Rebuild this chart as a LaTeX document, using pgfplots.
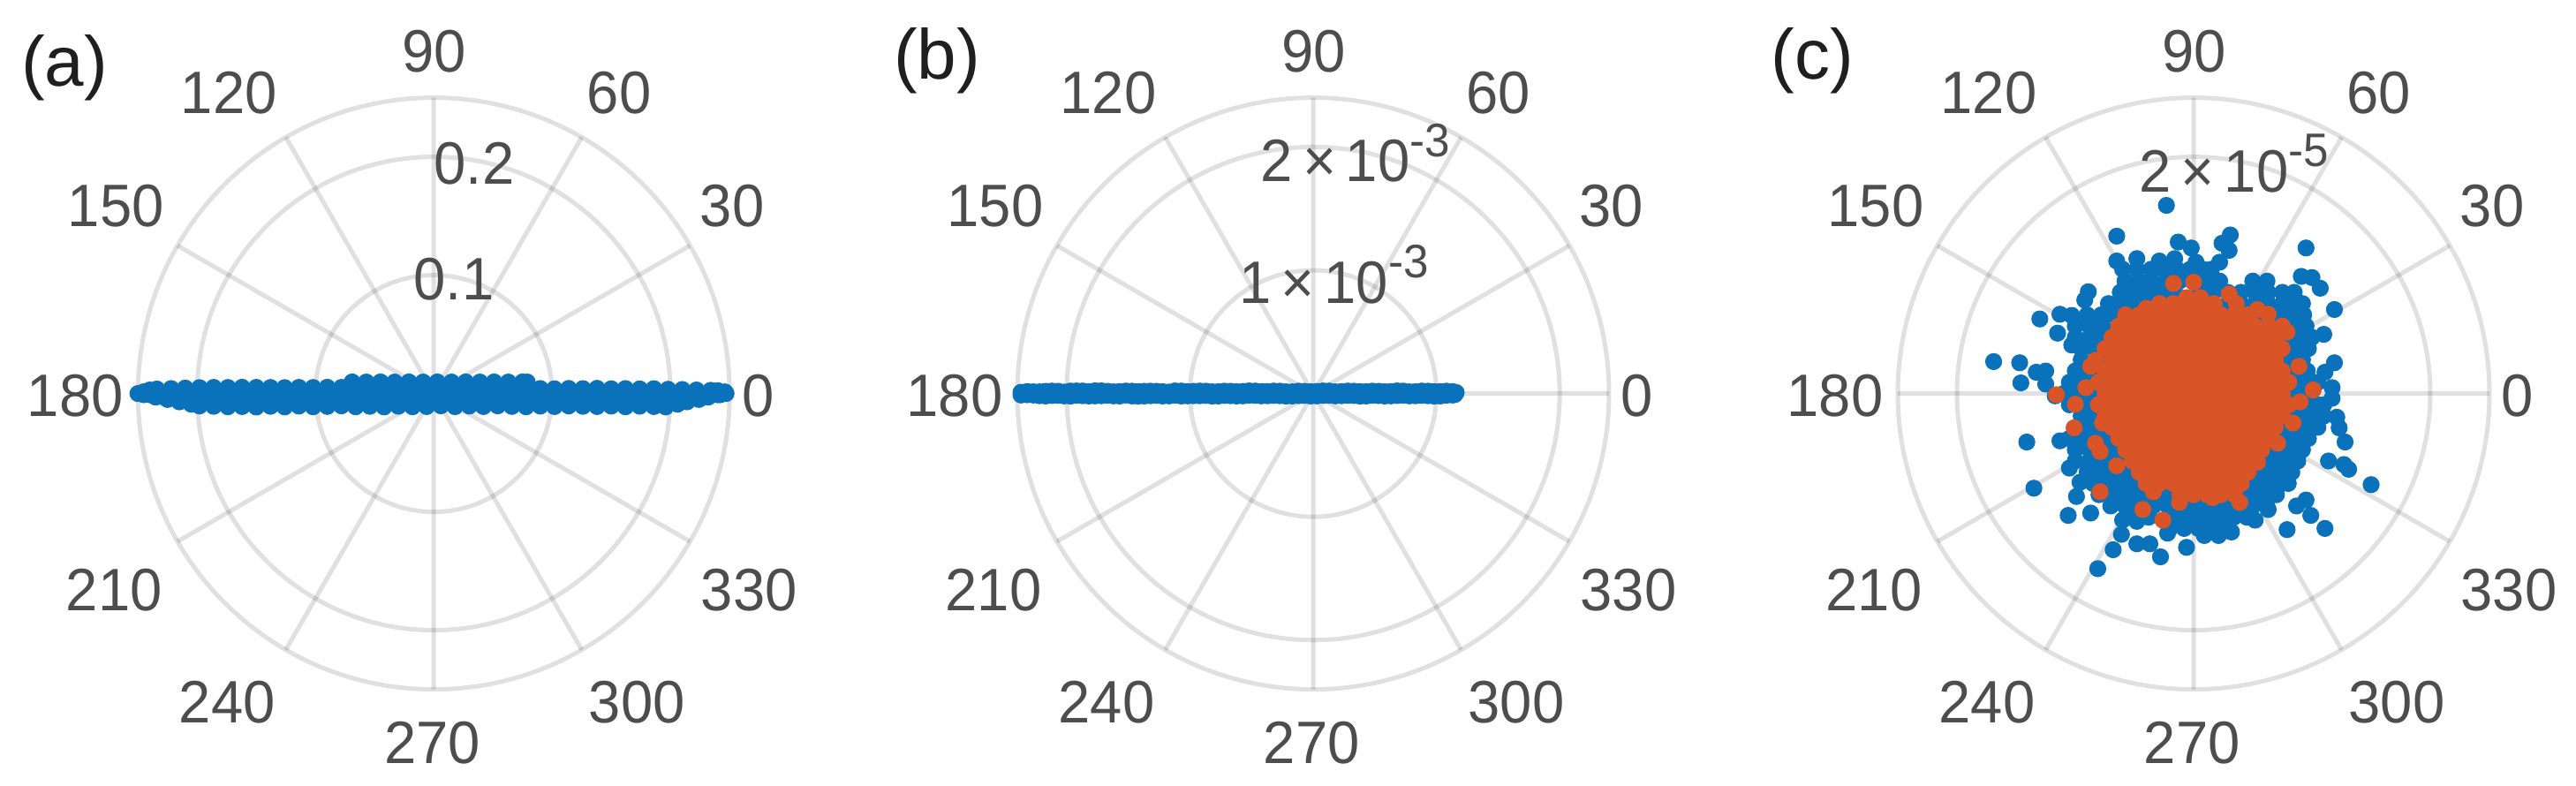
\documentclass[border=0pt]{standalone}
\usepackage{fontspec}
\setmainfont{Liberation Sans}
\usepackage{pgfplots}
\pgfplotsset{compat=1.18}
\usepgfplotslibrary{polar}
\definecolor{mblue}{HTML}{0A72BA}
\definecolor{morange}{HTML}{D95426}
\definecolor{lab}{HTML}{4D4D4D}
\newcommand{\tfont}{\fontsize{16.3}{16.3}\selectfont}
\newcommand{\pow}[1]{\raisebox{0.42em}{\fontsize{12.8}{12}\selectfont #1}}
\newcommand{\st}[1]{\scalebox{1}[1.04]{#1}}
\newcommand{\al}[3]{\node[font=\tfont,text=lab,xshift=#1pt,yshift=#2pt] at (axis cs:0,0) {\st{#3}};}
\newcommand{\anglelabels}{%
\al{91.75}{-0.75}{0}\al{84.5}{53.2}{30}\al{52.5}{85.2}{60}\al{0.1}{96.75}{90}%
\al{-58}{85.2}{120}\al{-90}{53.2}{150}\al{-101.5}{-0.75}{180}\al{-90.5}{-55.75}{210}%
\al{-58.5}{-87.5}{240}\al{-0.45}{-98.9}{270}\al{57.5}{-87.5}{300}\al{89.25}{-55.75}{330}}
\pgfplotsset{mypolar/.style={
  scale only axis,width=167.5pt,height=167.5pt,anchor=center,clip=false,
  xmin=0,xmax=360,ymin=0,
  xtick={0,30,60,90,120,150,180,210,240,270,300,330},
  xticklabel=\empty,yticklabel=\empty,
  major tick length=0pt,
  xmajorgrids,ymajorgrids,
  grid style={black,opacity=0.12,line width=1.25pt},
  separate axis lines,
  x axis line style={black,opacity=0.12,line width=1.25pt},
  y axis line style={draw=none},
  every axis plot/.append style={only marks,mark=*,mark size=2.2pt,data cs=cart},
}}
\begin{document}
\begin{tikzpicture}
\path[use as bounding box] (0,0) rectangle (729.25pt,222.5pt);
\node[font=\fontsize{20}{20}\selectfont,text=black!88] at (18.25pt,203.3pt) {(a)};
\node[font=\fontsize{20}{20}\selectfont,text=black!88] at (265.25pt,205.25pt) {(b)};
\node[font=\fontsize{20}{20}\selectfont,text=black!88] at (513.1pt,205.4pt) {(c)};
% ---------------- (a)
\begin{polaraxis}[mypolar,at={(122.8pt,111.1pt)},ymax=0.25,ytick={0.1,0.2}]
\addplot[mblue] coordinates {
(-0.069,0.0098)(-0.057,0.0097)(-0.045,0.0098)(-0.033,0.0097)(-0.021,0.0098)(-0.009,0.0097)(0.003,0.0098)(0.015,0.0097)(0.027,0.0098)(0.039,0.0097)(0.051,0.0098)(0.063,0.0097)(0.075,0.0098)(0.079,0.0097)
(-0.234,0.0038)(-0.222,0.0042)(-0.210,0.0046)(-0.198,0.0050)(-0.186,0.0052)(-0.174,0.0051)(-0.162,0.0053)(-0.150,0.0052)(-0.138,0.0051)(-0.126,0.0050)(-0.114,0.0052)(-0.102,0.0051)(-0.090,0.0053)(-0.078,0.0052)(-0.066,0.0050)(-0.054,0.0052)(-0.042,0.0051)(-0.030,0.0050)(-0.018,0.0052)(-0.006,0.0050)(0.006,0.0052)(0.018,0.0051)(0.030,0.0049)(0.042,0.0052)(0.054,0.0050)(0.066,0.0052)(0.078,0.0051)(0.090,0.0042)(0.102,0.0040)(0.114,0.0043)(0.126,0.0041)(0.138,0.0044)(0.150,0.0040)(0.162,0.0042)(0.174,0.0039)(0.186,0.0041)(0.198,0.0036)(0.210,0.0034)(0.222,0.0030)(0.234,0.0027)
(-0.245,0.0015)(-0.240,0.0030)(0.240,0.0024)(0.246,0.0014)(-0.250,0.0003)(0.247,0.0002)
(-0.240,-0.0010)(-0.228,-0.0030)(-0.216,-0.0030)(-0.204,-0.0032)(-0.192,-0.0030)(-0.180,-0.0028)(-0.168,-0.0031)(-0.156,-0.0030)(-0.144,-0.0032)(-0.132,-0.0029)(-0.120,-0.0030)(-0.108,-0.0031)(-0.096,-0.0028)(-0.084,-0.0030)(-0.072,-0.0032)(-0.060,-0.0029)(-0.048,-0.0030)(-0.036,-0.0031)(-0.024,-0.0028)(-0.012,-0.0030)(0,-0.0032)(0.012,-0.0029)(0.024,-0.0030)(0.036,-0.0031)(0.048,-0.0028)(0.060,-0.0030)(0.072,-0.0032)(0.084,-0.0029)(0.096,-0.0030)(0.108,-0.0031)(0.120,-0.0028)(0.132,-0.0030)(0.144,-0.0032)(0.156,-0.0029)(0.168,-0.0030)(0.180,-0.0031)(0.192,-0.0028)(0.204,-0.0030)(0.216,-0.0030)(0.228,-0.0025)(0.240,-0.0010)
(-0.245,-0.0010)(-0.235,-0.0030)(-0.225,-0.0050)(-0.215,-0.0070)(-0.205,-0.0090)
(-0.198,-0.0105)(-0.186,-0.0108)(-0.174,-0.0112)(-0.162,-0.0110)(-0.150,-0.0114)(-0.138,-0.0108)(-0.126,-0.0113)(-0.114,-0.0106)(-0.102,-0.0112)(-0.090,-0.0109)(-0.078,-0.0104)(-0.066,-0.0112)(-0.054,-0.0108)(-0.042,-0.0113)(-0.030,-0.0107)(-0.018,-0.0112)(-0.006,-0.0110)(0.006,-0.0104)(0.018,-0.0111)(0.030,-0.0106)(0.042,-0.0110)(0.054,-0.0104)(0.066,-0.0109)(0.078,-0.0112)(0.090,-0.0106)(0.102,-0.0110)(0.114,-0.0105)(0.126,-0.0108)(0.138,-0.0110)(0.150,-0.0106)(0.162,-0.0112)(0.174,-0.0107)(0.186,-0.0110)(0.196,-0.0113)
(0.206,-0.0090)(0.214,-0.0070)(0.224,-0.0050)(0.232,-0.0030)(0.242,-0.0010)
};
\node[font=\tfont,text=lab] at (axis cs:80,0.098) {\st{0.1}};
\node[font=\tfont,text=lab] at (axis cs:80,0.197) {\st{0.2}};
\anglelabels
\end{polaraxis}
% ---------------- (b)
\begin{polaraxis}[mypolar,at={(371.75pt,111.1pt)},ymax=2.4,ytick={1,2}]
\addplot[mblue] coordinates {
(-2.37,0.010)(-2.27,-0.012)(-2.17,0.018)(-2.07,-0.015)(-1.97,0.020)(-1.87,-0.018)(-1.77,0.022)(-1.67,-0.014)(-1.57,0.016)(-1.47,-0.020)(-1.37,0.018)(-1.27,-0.015)(-1.17,0.012)(-1.07,-0.020)(-0.97,0.018)(-0.87,-0.016)(-0.77,0.015)(-0.67,-0.018)(-0.57,0.017)(-0.47,-0.015)(-0.37,0.016)(-0.27,-0.018)(-0.17,0.014)(-0.07,-0.016)(0.03,0.017)(0.13,-0.014)(0.23,0.016)(0.33,-0.016)(0.43,0.015)(0.53,-0.017)(0.63,0.016)(0.73,-0.014)(0.83,0.015)(0.93,-0.018)(1.03,0.016)(1.13,-0.012)(1.16,0.008)
(-2.32,-0.010)(-2.22,0.014)(-2.12,-0.016)(-2.02,0.012)(-1.92,-0.014)(-1.82,0.016)(-1.72,-0.018)(-1.62,0.014)(-1.52,-0.012)(-1.42,0.016)(-1.32,-0.018)(-1.22,0.015)(-1.12,-0.014)(-1.02,0.016)(-0.92,-0.018)(-0.82,0.014)(-0.72,-0.016)(-0.62,0.015)(-0.52,-0.014)(-0.42,0.016)(-0.32,-0.015)(-0.22,0.014)(-0.12,-0.017)(-0.02,0.015)(0.08,-0.016)(0.18,0.014)(0.28,-0.015)(0.38,0.016)(0.48,-0.014)(0.58,0.015)(0.68,-0.016)(0.78,0.014)(0.88,-0.015)(0.98,0.016)(1.08,-0.014)(1.15,-0.008)
(-2.37,-0.012)(-2.27,0.014)(-2.17,-0.020)(-2.07,0.018)(-1.97,-0.021)(-1.87,0.020)(-1.77,-0.019)(-1.67,0.018)(-1.57,-0.020)(-1.47,0.019)(-1.37,-0.020)(-1.27,0.018)(-1.17,-0.019)(-1.07,0.020)(-0.97,-0.018)(-0.87,0.019)(-0.77,-0.020)(-0.67,0.018)(-0.57,-0.019)(-0.47,0.020)(-0.37,-0.018)(-0.27,0.019)(-0.17,-0.020)(-0.07,0.018)(0.03,-0.019)(0.13,0.020)(0.23,-0.018)(0.33,0.019)(0.43,-0.020)(0.53,0.018)(0.63,-0.019)(0.73,0.020)(0.83,-0.018)(0.93,0.019)(1.03,-0.020)(1.13,0.016)
(-2.32,0.016)(-2.22,-0.018)(-2.12,0.020)(-2.02,-0.019)(-1.92,0.021)(-1.82,-0.020)(-1.72,0.022)(-1.62,-0.019)(-1.52,0.020)(-1.42,-0.021)(-1.32,0.019)(-1.22,-0.020)(-1.12,0.021)(-1.02,-0.019)(-0.92,0.020)(-0.82,-0.021)(-0.72,0.019)(-0.62,-0.020)(-0.52,0.021)(-0.42,-0.019)(-0.32,0.020)(-0.22,-0.021)(-0.12,0.019)(-0.02,-0.020)(0.08,0.021)(0.18,-0.019)(0.28,0.020)(0.38,-0.021)(0.48,0.019)(0.58,-0.020)(0.68,0.021)(0.78,-0.019)(0.88,0.020)(0.98,-0.021)(1.08,0.019)
};
\node[font=\tfont,text=lab] at (axis cs:80,0.98) {\st{1\,×\,10\pow{-3}}};
\node[font=\tfont,text=lab] at (axis cs:80,1.98) {\st{2\,×\,10\pow{-3}}};
\anglelabels
\end{polaraxis}
% ---------------- (c)
\begin{polaraxis}[mypolar,at={(621pt,111.1pt)},ymax=2.5,ytick={2}]
\addplot[mblue] coordinates {
(-0.23,1.59)(-0.65,1.33)(-0.13,1.28)(-0.02,1.23)(0.31,1.34)(0.24,1.27)(0.30,1.21)(0.95,1.23)(-0.65,1.12)(-0.48,1.14)(-0.29,1.12)(-0.16,1.14)(0.02,1.11)(0.22,1.11)(0.91,0.99)(1.00,0.98)(1.07,0.89)(1.19,0.71)(-0.89,0.86)(-0.92,0.79)(-1.30,0.63)(-1.13,0.67)(-1.03,0.66)(-1.15,0.51)(-1.03,0.41)(1.10,0.50)(1.19,0.26)(1.11,0.18)(-1.69,0.27)(-1.47,0.26)(-1.33,0.18)(-1.25,0.19)(-1.46,0.09)(-1.25,0.08)(-1.17,-0.02)(1.17,0.05)(1.17,-0.04)(1.21,-0.20)(1.23,-0.29)(1.28,-0.41)(1.14,-0.57)(1.27,-0.60)(1.31,-0.64)(1.50,-0.77)(-1.41,-0.41)(-1.13,-0.40)(-1.05,-0.63)(-1.35,-0.80)(-0.96,-0.75)(-0.99,-0.87)(-1.06,-1.03)(-0.87,-1.01)(-0.65,-0.92)(-0.60,-1.07)(-0.48,-1.08)(-0.61,-1.19)(-0.68,-1.32)(-0.48,-1.27)(-0.37,-1.27)(-0.28,-1.38)(-0.81,-1.48)(-0.06,-1.30)(-0.22,-1.18)(0.09,-1.20)(0.21,-1.20)(0.32,-1.17)(0.52,-1.07)(0.63,-0.98)(0.79,-1.15)(1.11,-1.14)(0.99,-1.03)(0.95,-0.90)(0.87,-0.95)
(-0.60,1.05)(-0.48,1.05)(-0.36,1.05)(-0.25,1.05)(-0.14,1.05)(-0.03,1.05)(0.08,1.05)(0.15,1.05)
(-0.58,0.95)(-0.46,0.95)(-0.35,0.95)(-0.23,0.95)(-0.12,0.95)(-0.01,0.95)(0.10,0.95)(0.22,0.95)(0.50,0.95)(0.62,0.95)
(-0.62,0.855)(-0.50,0.855)(-0.39,0.855)(-0.27,0.855)(-0.16,0.855)(0.05,0.855)(0.17,0.855)(0.29,0.855)(0.40,0.855)(0.52,0.855)(0.63,0.855)(0.75,0.855)(0.85,0.855)
(-0.72,0.76)(-0.60,0.76)(-0.49,0.76)(-0.40,0.76)(0.29,0.76)(0.40,0.76)(0.52,0.76)(0.63,0.76)(0.75,0.76)(0.87,0.76)(0.92,0.76)
(-0.90,0.665)(-0.78,0.665)(-0.67,0.665)(0.58,0.665)(0.70,0.665)(0.81,0.665)(0.93,0.665)
(-1.00,0.57)(-0.88,0.57)(-0.77,0.57)(0.86,0.57)(0.95,0.57)
(-1.00,0.475)(-0.88,0.475)(-0.78,0.475)(0.80,0.475)(0.92,0.475)(1.00,0.475)
(-0.95,0.38)(-0.84,0.38)(0.85,0.38)(0.97,0.38)
(-0.95,0.285)(-0.82,0.285)(0.80,0.285)(0.92,0.285)
(-1.00,0.19)(-0.88,0.19)(0.84,0.19)(0.96,0.19)
(-1.05,0.095)(-0.92,0.095)(0.92,0.095)(1.05,0.095)
(-1.10,0)(-0.98,0)(-0.86,0)(0.86,0)(0.97,0)
(-1.05,-0.095)(-0.92,-0.095)(0.92,-0.095)(1.05,-0.095)(1.10,-0.095)
(-0.95,-0.19)(-0.85,-0.19)(0.86,-0.19)(0.98,-0.19)(1.10,-0.19)
(-0.90,-0.285)(-0.80,-0.285)(0.80,-0.285)(0.92,-0.285)(1.05,-0.285)
(-1.05,-0.38)(-0.93,-0.38)(-0.81,-0.38)(-0.72,-0.38)(0.72,-0.38)(0.85,-0.38)(0.97,-0.38)
(-1.00,-0.475)(-0.88,-0.475)(-0.77,-0.475)(-0.66,-0.475)(0.68,-0.475)(0.80,-0.475)(0.92,-0.475)
(-1.00,-0.57)(-0.88,-0.57)(-0.76,-0.57)(-0.64,-0.57)(0.63,-0.57)(0.75,-0.57)(0.88,-0.57)
(-0.90,-0.665)(-0.78,-0.665)(-0.66,-0.665)(-0.55,-0.665)(0.57,-0.665)(0.70,-0.665)(0.83,-0.665)
(-0.85,-0.76)(-0.73,-0.76)(-0.61,-0.76)(-0.50,-0.76)(0.50,-0.76)(0.62,-0.76)(0.74,-0.76)(0.80,-0.76)
(-0.80,-0.855)(-0.68,-0.855)(-0.56,-0.855)(-0.44,-0.855)(-0.32,-0.855)(-0.20,-0.855)(0.45,-0.855)(0.57,-0.855)(0.70,-0.855)
(-0.70,-0.95)(-0.58,-0.95)(-0.46,-0.95)(-0.34,-0.95)(-0.22,-0.95)(-0.10,-0.95)(0.02,-0.95)(0.14,-0.95)(0.26,-0.95)(0.38,-0.95)(0.50,-0.95)(0.62,-0.95)
(-0.50,-1.045)(-0.38,-1.045)(-0.14,-1.045)(-0.02,-1.045)(0.10,-1.045)(0.22,-1.045)(0.34,-1.045)(0.45,-1.045)
(-0.20,-1.14)(-0.08,-1.14)(0.04,-1.14)(0.16,-1.14)(0.28,-1.14)
};
\addplot[morange] coordinates {
(-0.17,0.93)(0,0.94)(0.30,0.84)(0.36,0.76)(0.54,0.71)(0.63,0.67)(0.79,0.52)(-0.40,0.72)(0.89,0.23)(1.01,0.03)(0.90,-0.07)(0.84,-0.25)(0.71,-0.42)(0.54,-0.58)(0.39,-0.92)(-0.12,-0.92)(0.16,-0.88)(-0.26,-1.07)(-0.43,-0.98)(-0.79,-0.83)(-0.65,-0.61)(-0.79,-0.49)(-0.83,-0.42)(-1.01,-0.29)(-1.00,-0.09)(-1.16,-0.01)(-0.91,0.05)(-0.87,0.23)(-0.83,0.28)(-0.77,-0.25)(-0.34,-0.83)
(-0.058,0.81)(0.058,0.81)
(-0.288,0.76)(-0.173,0.76)(-0.058,0.76)(0.058,0.76)(0.173,0.76)
(-0.575,0.665)(-0.46,0.665)(-0.345,0.665)(-0.23,0.665)(-0.115,0.665)(0,0.665)(0.115,0.665)(0.23,0.665)(0.345,0.665)(0.46,0.665)
(-0.633,0.57)(-0.518,0.57)(-0.403,0.57)(-0.288,0.57)(-0.173,0.57)(-0.058,0.57)(0.058,0.57)(0.173,0.57)(0.288,0.57)(0.403,0.57)(0.518,0.57)(0.633,0.57)(0.748,0.57)
(-0.69,0.475)(-0.575,0.475)(-0.46,0.475)(-0.345,0.475)(-0.23,0.475)(-0.115,0.475)(0,0.475)(0.115,0.475)(0.23,0.475)(0.345,0.475)(0.46,0.475)(0.575,0.475)(0.69,0.475)
(-0.748,0.38)(-0.633,0.38)(-0.518,0.38)(-0.403,0.38)(-0.288,0.38)(-0.173,0.38)(-0.058,0.38)(0.058,0.38)(0.173,0.38)(0.288,0.38)(0.403,0.38)(0.518,0.38)(0.633,0.38)(0.748,0.38)
(-0.69,0.285)(-0.575,0.285)(-0.46,0.285)(-0.345,0.285)(-0.23,0.285)(-0.115,0.285)(0,0.285)(0.115,0.285)(0.23,0.285)(0.345,0.285)(0.46,0.285)(0.575,0.285)(0.69,0.285)
(-0.748,0.19)(-0.633,0.19)(-0.518,0.19)(-0.403,0.19)(-0.288,0.19)(-0.173,0.19)(-0.058,0.19)(0.058,0.19)(0.173,0.19)(0.288,0.19)(0.403,0.19)(0.518,0.19)(0.633,0.19)(0.748,0.19)
(-0.805,0.095)(-0.69,0.095)(-0.575,0.095)(-0.46,0.095)(-0.345,0.095)(-0.23,0.095)(-0.115,0.095)(0,0.095)(0.115,0.095)(0.23,0.095)(0.345,0.095)(0.46,0.095)(0.575,0.095)(0.69,0.095)(0.805,0.095)
(-0.748,0)(-0.633,0)(-0.518,0)(-0.403,0)(-0.288,0)(-0.173,0)(-0.058,0)(0.058,0)(0.173,0)(0.288,0)(0.403,0)(0.518,0)(0.633,0)(0.748,0)
(-0.805,-0.095)(-0.69,-0.095)(-0.575,-0.095)(-0.46,-0.095)(-0.345,-0.095)(-0.23,-0.095)(-0.115,-0.095)(0,-0.095)(0.115,-0.095)(0.23,-0.095)(0.345,-0.095)(0.46,-0.095)(0.575,-0.095)(0.69,-0.095)(0.805,-0.095)
(-0.748,-0.19)(-0.633,-0.19)(-0.518,-0.19)(-0.403,-0.19)(-0.288,-0.19)(-0.173,-0.19)(-0.058,-0.19)(0.058,-0.19)(0.173,-0.19)(0.288,-0.19)(0.403,-0.19)(0.518,-0.19)(0.633,-0.19)(0.748,-0.19)
(-0.69,-0.285)(-0.575,-0.285)(-0.46,-0.285)(-0.345,-0.285)(-0.23,-0.285)(-0.115,-0.285)(0,-0.285)(0.115,-0.285)(0.23,-0.285)(0.345,-0.285)(0.46,-0.285)(0.575,-0.285)(0.69,-0.285)
(-0.633,-0.38)(-0.518,-0.38)(-0.403,-0.38)(-0.288,-0.38)(-0.173,-0.38)(-0.058,-0.38)(0.058,-0.38)(0.173,-0.38)(0.288,-0.38)(0.403,-0.38)(0.518,-0.38)(0.633,-0.38)
(-0.575,-0.475)(-0.46,-0.475)(-0.345,-0.475)(-0.23,-0.475)(-0.115,-0.475)(0,-0.475)(0.115,-0.475)(0.23,-0.475)(0.345,-0.475)(0.46,-0.475)(0.575,-0.475)
(-0.518,-0.57)(-0.403,-0.57)(-0.288,-0.57)(-0.173,-0.57)(-0.058,-0.57)(0.058,-0.57)(0.173,-0.57)(0.288,-0.57)(0.403,-0.57)(0.518,-0.57)
(-0.46,-0.665)(-0.345,-0.665)(-0.23,-0.665)(-0.115,-0.665)(0,-0.665)(0.115,-0.665)(0.23,-0.665)(0.345,-0.665)(0.46,-0.665)
(-0.403,-0.76)(-0.288,-0.76)(-0.173,-0.76)(-0.058,-0.76)(0.058,-0.76)(0.173,-0.76)(0.288,-0.76)(0.403,-0.76)
(-0.115,-0.855)(0,-0.855)(0.115,-0.855)(0.23,-0.855)(0.345,-0.855)
};
\node[font=\tfont,text=lab] at (axis cs:80,1.975) {\st{2\,×\,10\pow{-5}}};
\anglelabels
\end{polaraxis}
\end{tikzpicture}
\end{document}
